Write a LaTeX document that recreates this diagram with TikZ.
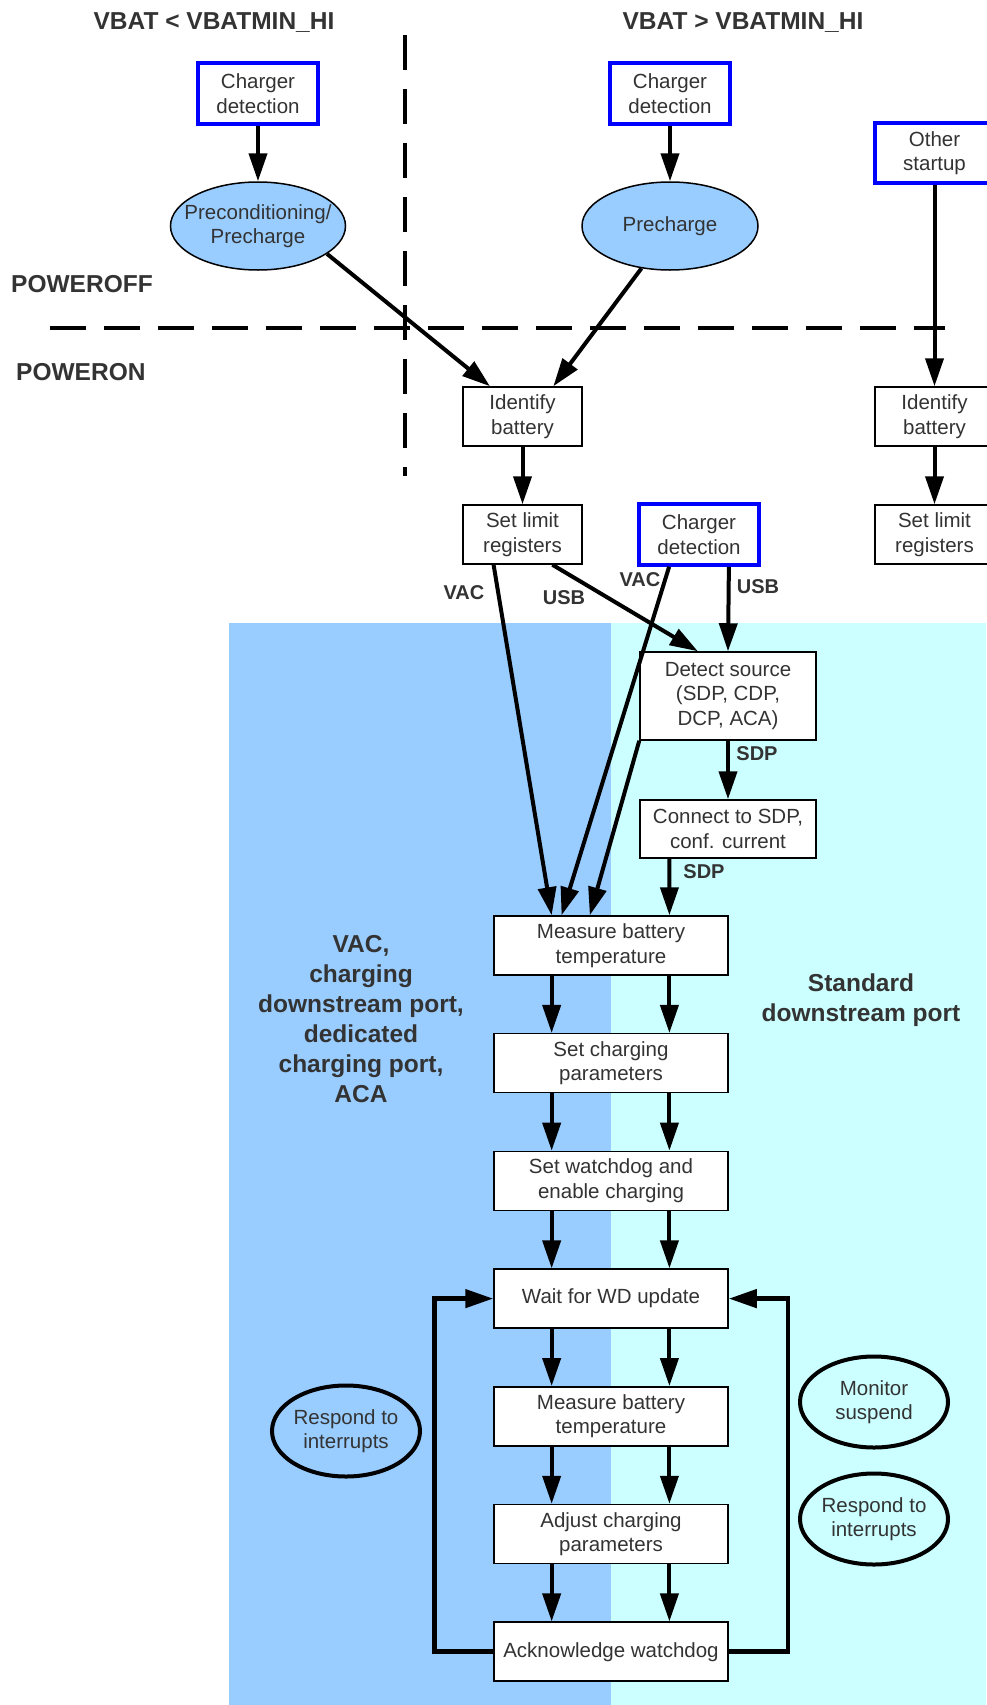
\documentclass[tikz,border=0pt]{standalone}
\usepackage{fontspec}
\setmainfont{Liberation Sans}
\usetikzlibrary{arrows.meta,shapes.geometric,calc}
\definecolor{txt}{HTML}{333333}
\definecolor{lblue}{HTML}{99CCFF}
\definecolor{lcyan}{HTML}{CCFFFF}
\definecolor{bblue}{HTML}{0000FF}
\newcommand{\boxfont}{\fontsize{20.5}{24.5}\selectfont}
\newcommand{\titfont}{\fontsize{24.5}{30}\selectfont\bfseries}
\newcommand{\edgefont}{\fontsize{20}{24}\selectfont\bfseries}
\begin{document}
\begin{tikzpicture}[x=1pt,y=-1pt,
  box/.style={draw=black, line width=1.5pt, fill=white, inner sep=0pt,
    minimum width=119pt, minimum height=59pt, align=center, text=txt, font=\boxfont},
  bluebox/.style={box, draw=bblue, line width=3.5pt, minimum width=120pt, minimum height=61pt},
  mainbox/.style={box, minimum width=234pt, minimum height=59pt},
  topell/.style={ellipse, draw=black, line width=1.5pt, fill=lblue, inner sep=0pt},
  loopell/.style={ellipse, draw=black, line width=4pt, inner sep=0pt,
    minimum width=148pt, minimum height=91pt},
  etext/.style={align=center, text=txt, font=\boxfont, inner sep=0pt},
  tit/.style={text=txt, font=\titfont, inner sep=0pt},
  reglab/.style={align=center, text=txt, font=\titfont, inner sep=0pt},
  elab/.style={text=txt, font=\edgefont, inner sep=0pt},
  arr/.style={line width=4pt, -{Triangle[length=28pt,width=18pt]}},
  loopline/.style={line width=4.5pt, -{Triangle[length=28pt,width=18pt]}}
]
\useasboundingbox (0,0) rectangle (986,1705);
% backgrounds
\fill[lblue] (229,623) rectangle (611,1705);
\fill[lcyan] (611,623) rectangle (986,1705);
% separators
\coordinate (hd1) at (50,328);
\coordinate (hd2) at (945,328);
\draw[line width=4.5pt, dash pattern=on 36pt off 18pt] (hd1) -- (hd2);
\coordinate (vd1) at (405,35);
\coordinate (vd2) at (405,476);
\draw[line width=4pt, dash pattern=on 35pt off 19pt] (vd1) -- (vd2);
% titles
\node[tit, anchor=base] (t1) at (214,29) {VBAT < VBATMIN\_HI};
\node[tit, anchor=base] (t2) at (743,29) {VBAT > VBATMIN\_HI};
\node[tit, anchor=base west] (poff) at (11,292.5) {POWEROFF};
\node[tit, anchor=base west] (pon) at (16,380) {POWERON};
% top nodes
\node[bluebox] (cd1) at (258,93.5) {Charger\\detection};
\node[bluebox] (cd2) at (670,93.5) {Charger\\detection};
\node[bluebox, minimum width=119pt, minimum height=60pt] (other) at (934.5,153) {Other\\startup};
\node[topell, minimum width=175pt, minimum height=88pt] (pre) at (258,226) {};
\node[etext] (pret) at (pre) {Preconditioning/\\Precharge};
\node[topell, minimum width=176pt, minimum height=88pt] (prech) at (670,226) {};
\node[etext] (precht) at (prech) {Precharge};
\node[box] (idb) at (522.5,416.5) {Identify\\battery};
\node[box] (idb2) at (934.5,416.5) {Identify\\battery};
\node[box] (slr) at (522.5,534.5) {Set limit\\registers};
\node[box] (slr2) at (934.5,534.5) {Set limit\\registers};
\node[bluebox] (cd3) at (699,534.5) {Charger\\detection};
\node[box, minimum width=176pt, minimum height=88pt] (ds) at (728,696) {Detect source\\(SDP, CDP,\\DCP, ACA)};
\node[box, minimum width=176pt, minimum height=58pt] (csdp) at (728,829) {Connect to SDP,\\conf. current};
% main column
\node[mainbox] (m1) at (611,945.5) {Measure battery\\temperature};
\node[mainbox] (m2) at (611,1063.2) {Set charging\\parameters};
\node[mainbox] (m3) at (611,1180.9) {Set watchdog and\\enable charging};
\node[mainbox] (wait) at (611,1298.6) {Wait for WD update};
\node[mainbox] (m5) at (611,1416.3) {Measure battery\\temperature};
\node[mainbox] (m6) at (611,1534) {Adjust charging\\parameters};
\node[mainbox] (ack) at (611,1651.7) {Acknowledge watchdog};
% side ellipses
\node[loopell] (ri1) at (346,1431) {};
\node[etext] (ri1t) at (ri1) {Respond to\\interrupts};
\node[loopell] (ms) at (874,1402) {};
\node[etext] (mst) at (ms) {Monitor\\suspend};
\node[loopell] (ri2) at (874,1519) {};
\node[etext] (ri2t) at (ri2) {Respond to\\interrupts};
% region labels
\node[reglab] (lvac) at (361,1019) {VAC,\\charging\\downstream port,\\dedicated\\charging port,\\ACA};
\node[reglab] (lsdp) at (861,1000) {Standard\\downstream port};
% arrows top
\draw[arr] (cd1) -- (pre);
\draw[arr] (cd2) -- (prech);
\draw[arr] (pre.-22) -- ($(idb.north west)!0.23!(idb.north east)$);
\draw[arr] (prech.-124) -- ($(idb.north west)!0.756!(idb.north east)$);
\draw[arr] (idb) -- (slr);
\draw[arr] (other) -- (idb2);
\draw[arr] (idb2) -- (slr2);
% source arrows
\draw[arr] ($(slr.south west)!0.26!(slr.south east)$) -- ($(m1.north west)!0.248!(m1.north east)$);
\draw[arr] ($(slr.south west)!0.748!(slr.south east)$) -- ($(ds.north west)!0.33!(ds.north east)$);
\draw[arr] ($(cd3.south west)!0.258!(cd3.south east)$) -- ($(m1.north west)!0.29!(m1.north east)$);
\draw[arr] ($(cd3.south west)!0.742!(cd3.south east)$) -- (ds.north);
\draw[arr] (ds.south west) -- ($(m1.north west)!0.41!(m1.north east)$);
\draw[arr] (ds) -- (csdp);
\draw[arr] ($(csdp.south west)!0.17!(csdp.south east)$) -- ($(m1.north west)!0.748!(m1.north east)$);
% edge labels
\node[elab] (lvac1) at (464,593) {VAC};
\node[elab] (lusb1) at (564,598) {USB};
\node[elab] (lvac2) at (640,580) {VAC};
\node[elab] (lusb2) at (758,587) {USB};
\node[elab] (lsdp1) at (757,754) {SDP};
\node[elab] (lsdp2) at (704,872) {SDP};
% main column arrows
\foreach \a/\b in {m1/m2,m2/m3,m3/wait,wait/m5,m5/m6,m6/ack}{
  \draw[arr] ($(\a.south west)!0.248!(\a.south east)$) -- ($(\b.north west)!0.248!(\b.north east)$);
  \draw[arr] ($(\a.south west)!0.748!(\a.south east)$) -- ($(\b.north west)!0.748!(\b.north east)$);
}
% loops
\draw[loopline] (ack.west) -- ++(-59,0) |- (wait.west);
\draw[loopline] (ack.east) -- ++(59,0) |- (wait.east);
\end{tikzpicture}
\end{document}
